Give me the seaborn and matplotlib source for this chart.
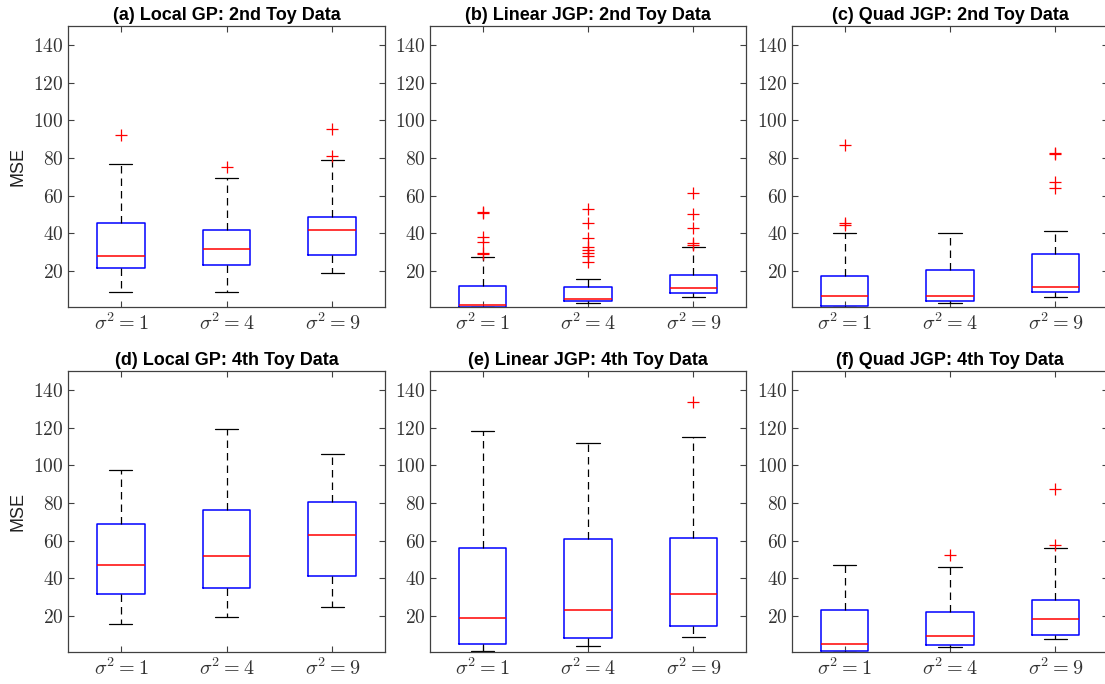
import matplotlib
matplotlib.use("Agg")
import matplotlib.pyplot as plt
import seaborn as sns

# Group labels shared by every panel
groups = [r"$\sigma^2 = 1$", r"$\sigma^2 = 4$", r"$\sigma^2 = 9$"]
yticks = [20, 40, 60, 80, 100, 120, 140]

titles = [
    "(a) Local GP: 2nd Toy Data",
    "(b) Linear JGP: 2nd Toy Data",
    "(c) Quad JGP: 2nd Toy Data",
    "(d) Local GP: 4th Toy Data",
    "(e) Linear JGP: 4th Toy Data",
    "(f) Quad JGP: 4th Toy Data",
]

# Box summaries per group: [lower whisker, Q1, median, Q3, upper whisker]
local_2nd = [[9.0, 21.8, 28.1, 45.3, 76.8],
             [8.8, 23.4, 31.9, 41.9, 69.2],
             [18.9, 28.5, 41.8, 48.8, 78.8]]
local_2nd_out = [[92.4], [75.0], [95.6, 81.1]]

linear_2nd = [[0.9, 1.2, 1.9, 11.9, 27.3],
              [3.2, 4.4, 5.5, 11.5, 15.9],
              [6.2, 8.5, 11.3, 18.2, 32.7]]
linear_2nd_out = [[51.5, 51.0, 37.9, 35.4, 29.8, 29.2],
                  [52.9, 45.3, 37.7, 32.7, 31.0, 29.5, 27.8, 25.1],
                  [61.2, 50.3, 42.7, 34.9, 34.0]]

quad_2nd = [[0.9, 1.4, 6.7, 17.5, 40.0],
            [3.2, 4.2, 6.7, 20.4, 40.0],
            [6.2, 8.8, 11.7, 29.0, 41.4]]
quad_2nd_out = [[86.9, 45.8, 44.4], [], [82.8, 81.9, 67.3, 63.9]]

local_4th = [[16.1, 32.0, 47.2, 69.1, 97.4],
             [19.8, 34.8, 52.0, 76.2, 119.0],
             [25.0, 41.4, 63.2, 80.7, 105.9]]
local_4th_out = [[], [], []]

linear_4th = [[1.4, 5.0, 18.9, 55.9, 118.3],
              [4.3, 8.2, 23.4, 60.8, 111.9],
              [8.7, 14.9, 31.7, 61.2, 115.1]]
linear_4th_out = [[], [], [133.8]]

quad_4th = [[1.1, 1.4, 5.2, 23.2, 47.2],
            [3.7, 4.8, 9.4, 22.3, 46.2],
            [7.8, 9.9, 18.4, 28.7, 56.4]]
quad_4th_out = [[], [52.5], [87.2, 57.5]]

panels = [
    (local_2nd, local_2nd_out),
    (linear_2nd, linear_2nd_out),
    (quad_2nd, quad_2nd_out),
    (local_4th, local_4th_out),
    (linear_4th, linear_4th_out),
    (quad_4th, quad_4th_out),
]

sns.set_theme(style="ticks")
plt.rcParams.update({
    "mathtext.fontset": "cm",
    "font.family": ["Liberation Sans", "DejaVu Sans"],
    "axes.edgecolor": "#404040",
    "axes.linewidth": 0.9,
    "xtick.direction": "in",
    "ytick.direction": "in",
    "xtick.color": "#404040",
    "ytick.color": "#404040",
    "xtick.top": True,
    "ytick.right": True,
    "xtick.major.size": 4,
    "ytick.major.size": 4,
    "xtick.major.width": 0.8,
    "ytick.major.width": 0.8,
})

W, H = 1105, 684
fig = plt.figure(figsize=(W / 100, H / 100), dpi=100)

# Axes rectangles in pixels: (left, top, right, bottom)
lefts = [68, 430, 792]
rights = [385, 746, 1108]
rows = [(26, 307), (371, 652)]

for idx, (title, (stats_rows, outliers)) in enumerate(zip(titles, panels)):
    r, c = divmod(idx, 3)
    top, bottom = rows[r]
    ax = fig.add_axes([lefts[c] / W, 1 - bottom / H,
                       (rights[c] - lefts[c]) / W, (bottom - top) / H])
    ax.set_facecolor("white")
    stats = []
    for label, s, out in zip(groups, stats_rows, outliers):
        stats.append(dict(label=label, whislo=s[0], q1=s[1], med=s[2],
                          q3=s[3], whishi=s[4], fliers=out))
    ax.bxp(stats, positions=[1, 2, 3], widths=0.45, capwidths=0.22,
           showfliers=True,
           boxprops=dict(color="#0000ff", linewidth=1.1),
           medianprops=dict(color="#ff0000", linewidth=1.1),
           whiskerprops=dict(color="black", linewidth=0.9, linestyle=(0, (6, 4))),
           capprops=dict(color="black", linewidth=0.9),
           flierprops=dict(marker="+", markeredgecolor="#ff0000",
                           markersize=8, markeredgewidth=0.9, linestyle="none"))
    ax.set_xlim(0.5, 3.5)
    ax.set_ylim(1, 150)
    ax.set_xticks([1, 2, 3])
    ax.set_xticklabels(groups, fontsize=14.5, color="#333333")
    ax.set_yticks(yticks)
    ax.set_yticklabels([f"${v}$" for v in yticks], fontsize=14, color="#333333")
    ax.tick_params(axis="x", pad=4)
    ax.tick_params(axis="y", pad=3)
    ax.set_title(title, fontsize=13, fontweight="bold", color="black", pad=4)
    if c == 0:
        ax.set_ylabel("MSE", fontsize=13, color="#222222", labelpad=5)
    for sp in ax.spines.values():
        sp.set_visible(True)

fig.savefig("out.png", dpi=100)
